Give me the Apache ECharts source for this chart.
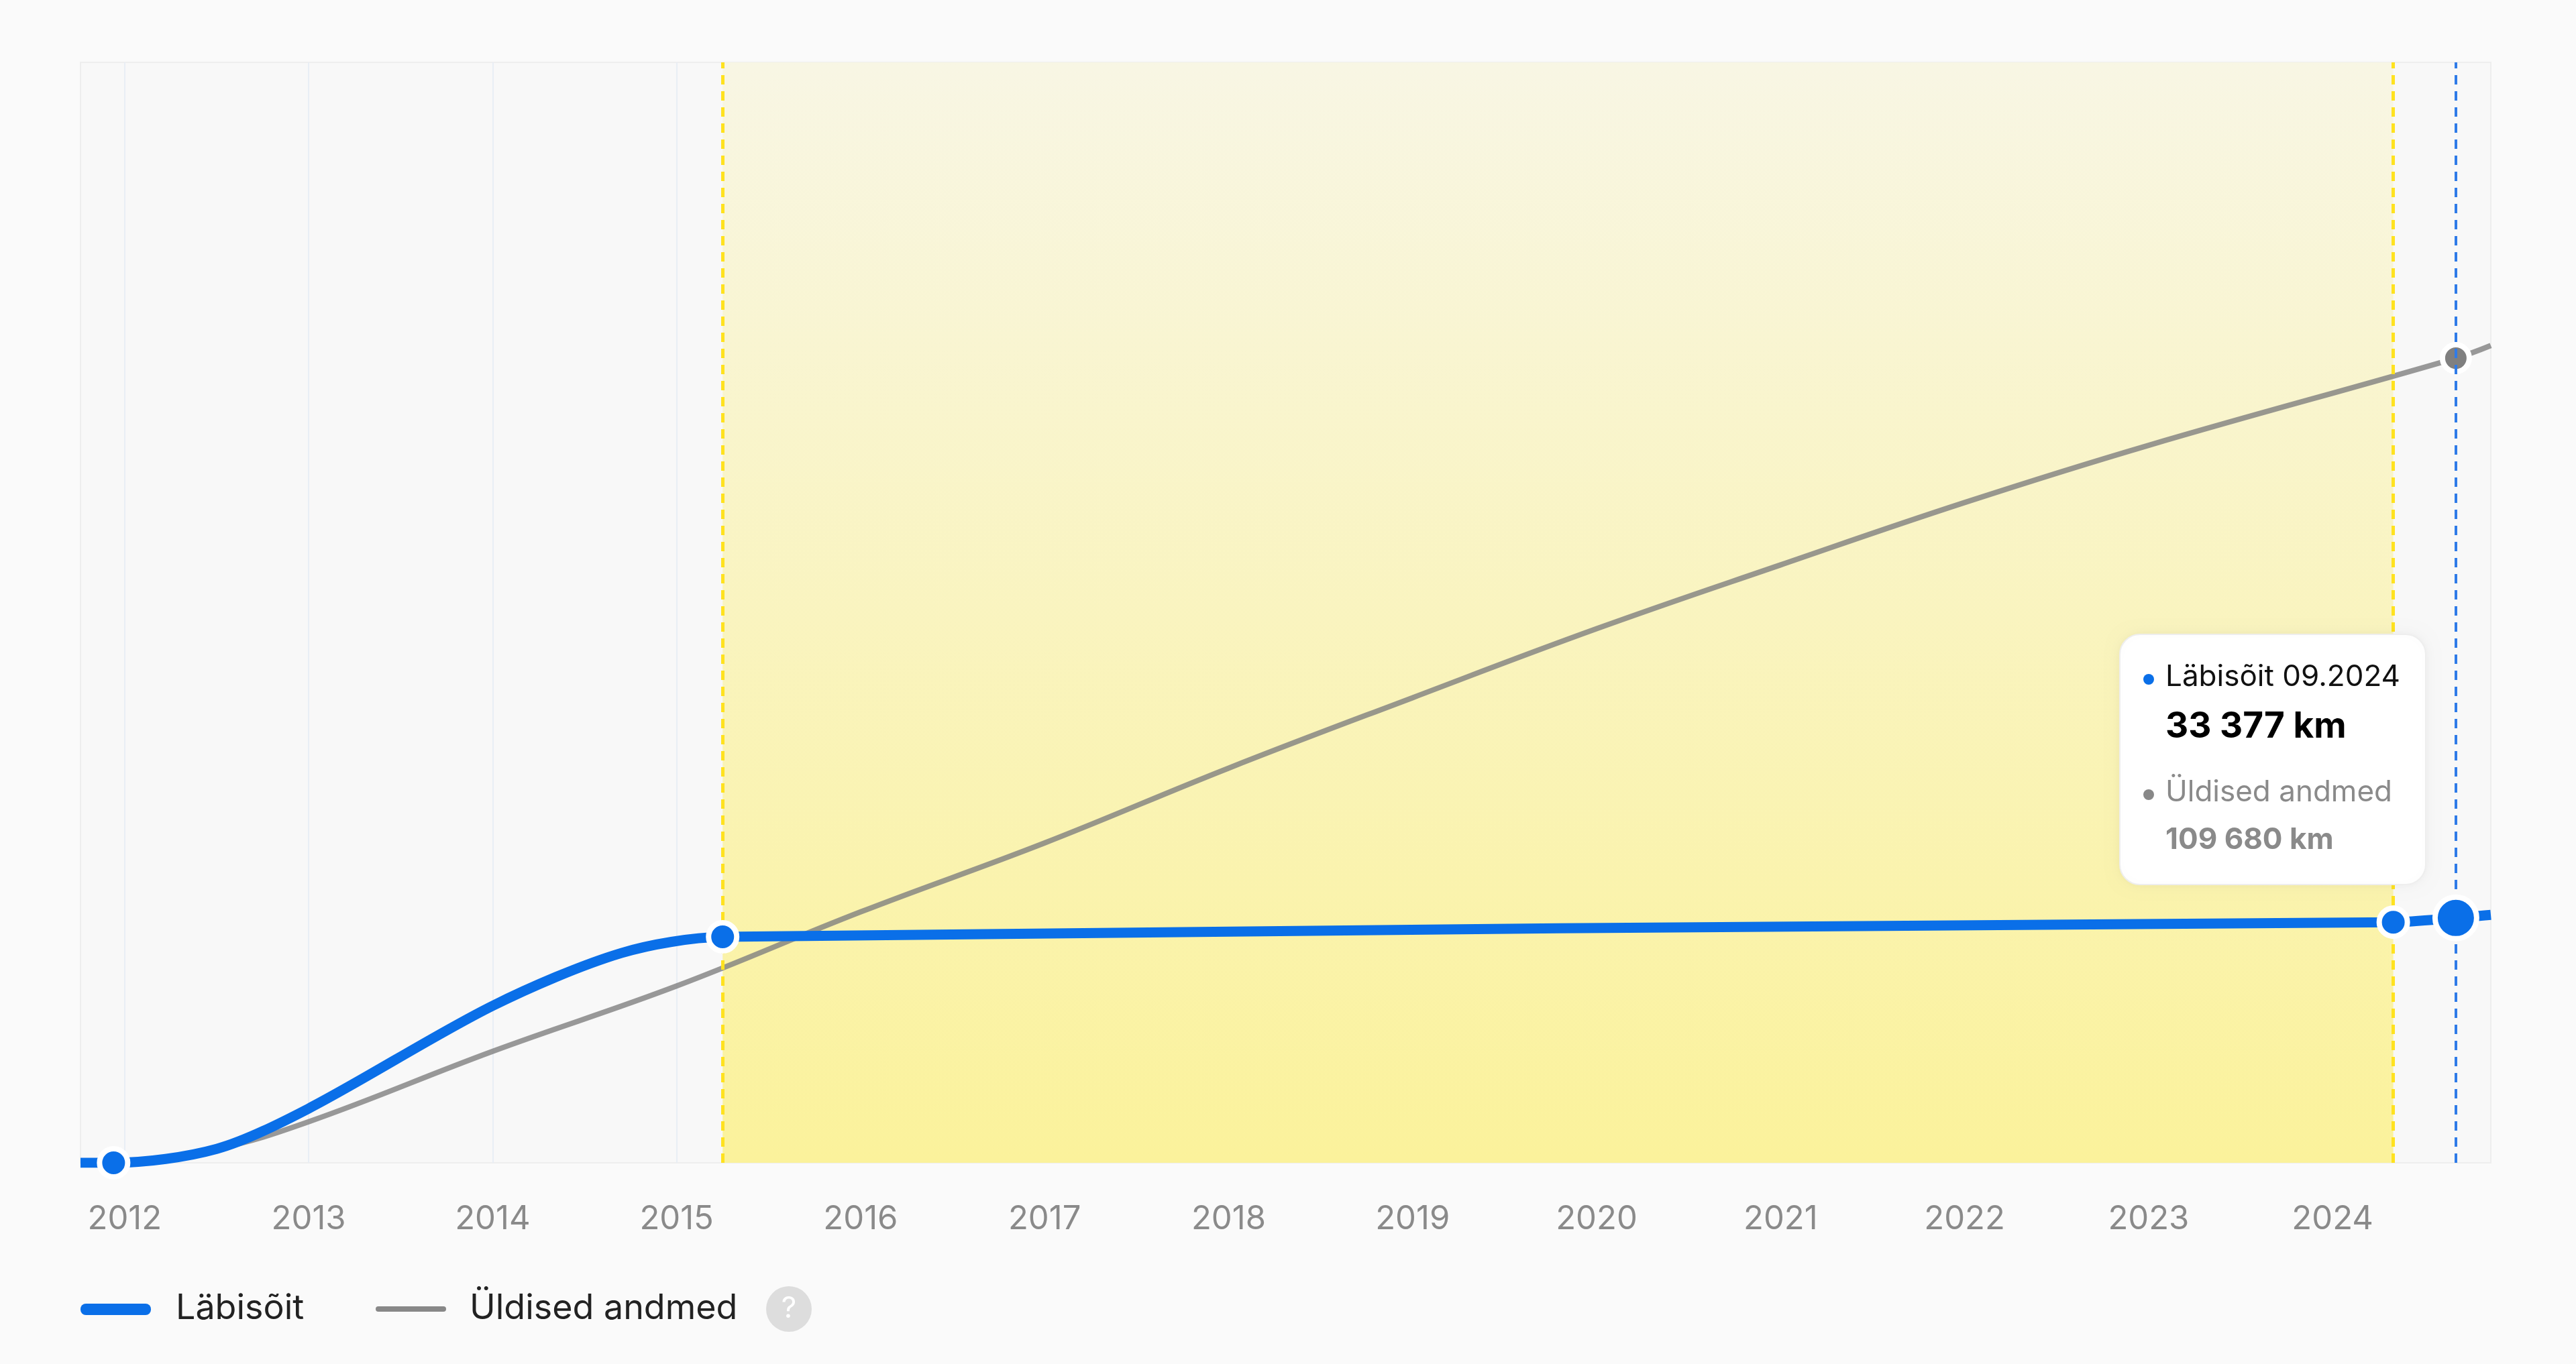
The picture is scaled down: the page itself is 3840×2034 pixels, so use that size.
<!DOCTYPE html>
<html style="height: 100%">
<head>
    <meta charset="utf-8">
</head>
<body style="height: 100%; margin: 0; background: #fafafa">
<div id="container" style="height: 100%"></div>
<script type="text/javascript" src="https://cdn.jsdelivr.net/npm/echarts@6/dist/echarts.min.js"></script>
<script type="text/javascript">
    var dom = document.getElementById("container");
    var myChart = echarts.init(dom);

    // data
    var years = [2012, 2013, 2014, 2015, 2016, 2017, 2018, 2019, 2020, 2021, 2022, 2023, 2024];
    var mileageX = [2011.76, 2011.94, 2012.5, 2013, 2014, 2014.7, 2015.25, 2024.33, 2024.67, 2024.86];
    var mileageY = [0, 0, 1900, 7400, 21400, 28600, 30800, 32800, 33377, 33800];
    var markedIdx = [1, 6, 7];
    var currentIdx = 8;
    var generalX = [2011.76, 2012, 2012.5, 2013, 2014, 2015, 2016, 2017, 2018, 2019, 2020, 2021, 2022, 2023, 2024.67, 2024.86];
    var generalY = [0, 200, 1900, 5600, 15200, 24100, 34200, 43600, 53800, 63400, 72800, 81500, 90000, 97800, 109680, 111400];
    var inspectionRange = [2015.25, 2024.33];
    var currentDateLabel = '09.2024';

    function km(v) {
        return String(v).replace(/\B(?=(\d{3})+(?!\d))/g, ' ') + ' km';
    }

    var blueData = mileageX.map(function (x, i) {
        var item = { value: [x, mileageY[i]], symbolSize: 0 };
        if (markedIdx.indexOf(i) >= 0) item.symbolSize = 42;
        if (i === currentIdx) item.symbolSize = 62;
        return item;
    });
    var greyData = generalX.map(function (x, i) {
        return { value: [x, generalY[i]], symbolSize: x === 2024.67 ? 40 : 0 };
    });
    var greyAtCurrent = generalY[generalX.indexOf(2024.67)];

    var option = {
        animation: false,
        backgroundColor: '#fafafa',
        textStyle: { fontFamily: 'Inter' },
        grid: {
            left: 120, right: 127, top: 93, bottom: 300,
            show: true, borderColor: '#eeeeee', borderWidth: 2, backgroundColor: '#f8f8f8'
        },
        xAxis: {
            type: 'value', min: 2011.76, max: 2024.86,
            axisLine: { show: false },
            axisTick: { show: false, customValues: years },
            splitLine: { show: true, lineStyle: { color: '#e9eef5', width: 2 } },
            axisLabel: {
                customValues: years, color: '#8a8a8a', fontSize: 49, margin: 60, fontFamily: 'Inter',
                formatter: function (v) { return String(Math.round(v)); }
            }
        },
        yAxis: {
            type: 'value', min: 0, max: 150000,
            show: false, splitLine: { show: false }
        },
        series: [{
            type: 'line',
            name: 'Üldised andmed',
            data: greyData,
            smooth: 0.4,
            symbol: 'circle',
            showAllSymbol: true,
            lineStyle: { color: '#808080', width: 8, opacity: 0.8 },
            itemStyle: { color: '#808080', borderColor: '#ffffff', borderWidth: 8 },
            z: 4
        }, {
            type: 'line',
            name: 'Läbisõit',
            data: blueData,
            smooth: 0.3,
            symbol: 'circle',
            showAllSymbol: true,
            lineStyle: { color: '#0a6fe8', width: 15 },
            itemStyle: { color: '#0a6fe8', borderColor: '#ffffff', borderWidth: 8 },
            markArea: {
                silent: true,
                itemStyle: {
                    color: new echarts.graphic.LinearGradient(0, 0, 0, 1, [
                        { offset: 0, color: 'rgba(248,246,228,1)' },
                        { offset: 1, color: 'rgba(251,242,155,1)' }
                    ])
                },
                data: [[{ xAxis: inspectionRange[0] }, { xAxis: inspectionRange[1] }]]
            },
            z: 5
        }, {
            type: 'line',
            data: [],
            markLine: {
                silent: true, symbol: 'none', label: { show: false },
                data: [
                    { xAxis: inspectionRange[0], lineStyle: { color: '#ffe21f', type: [14, 10], width: 5 } },
                    { xAxis: inspectionRange[1], lineStyle: { color: '#ffe21f', type: [14, 10], width: 5 } },
                    { xAxis: mileageX[currentIdx], lineStyle: { color: '#2f7be8', type: [14, 10], width: 4 } }
                ]
            },
            z: 3
        }],
        graphic: [
            // tooltip
            { type: 'rect', left: 3159, top: 945, z: 50,
              shape: { width: 456, height: 373, r: 30 },
              style: { fill: '#ffffff', stroke: '#eeeeee', lineWidth: 2, shadowBlur: 20, shadowColor: 'rgba(0,0,0,0.05)' } },
            { type: 'circle', shape: { cx: 3203, cy: 1013, r: 8 }, style: { fill: '#0a6fe8' }, z: 51 },
            { type: 'text', left: 3228, top: 988, z: 51,
              style: { text: 'Läbisõit ' + currentDateLabel, fill: '#111111', font: '44px Inter' } },
            { type: 'text', left: 3228, top: 1058, z: 51,
              style: { text: km(mileageY[currentIdx]), fill: '#000000', font: 'bold 53px Inter' } },
            { type: 'circle', shape: { cx: 3203, cy: 1185, r: 8 }, style: { fill: '#888888' }, z: 51 },
            { type: 'text', left: 3228, top: 1160, z: 51,
              style: { text: 'Üldised andmed', fill: '#8a8a8a', font: '44px Inter' } },
            { type: 'text', left: 3228, top: 1231, z: 51,
              style: { text: km(greyAtCurrent), fill: '#8a8a8a', font: 'bold 44px Inter' } },
            // legend
            { type: 'rect', left: 120, top: 1944, shape: { width: 105, height: 17, r: 8 }, style: { fill: '#0a6fe8' } },
            { type: 'text', left: 262, top: 1925, style: { text: 'Läbisõit', fill: '#222222', font: '52px Inter' } },
            { type: 'rect', left: 560, top: 1948, shape: { width: 105, height: 8, r: 4 }, style: { fill: '#888888' } },
            { type: 'text', left: 700, top: 1925, style: { text: 'Üldised andmed', fill: '#222222', font: '52px Inter' } },
            { type: 'circle', shape: { cx: 1176, cy: 1952, r: 34 }, style: { fill: '#dddddd' } },
            { type: 'text', x: 1176, y: 1952, style: { text: '?', fill: '#ffffff', font: '44px Inter', align: 'center', verticalAlign: 'middle' } }
        ]
    };
    myChart.setOption(option);
</script>
</body>
</html>
